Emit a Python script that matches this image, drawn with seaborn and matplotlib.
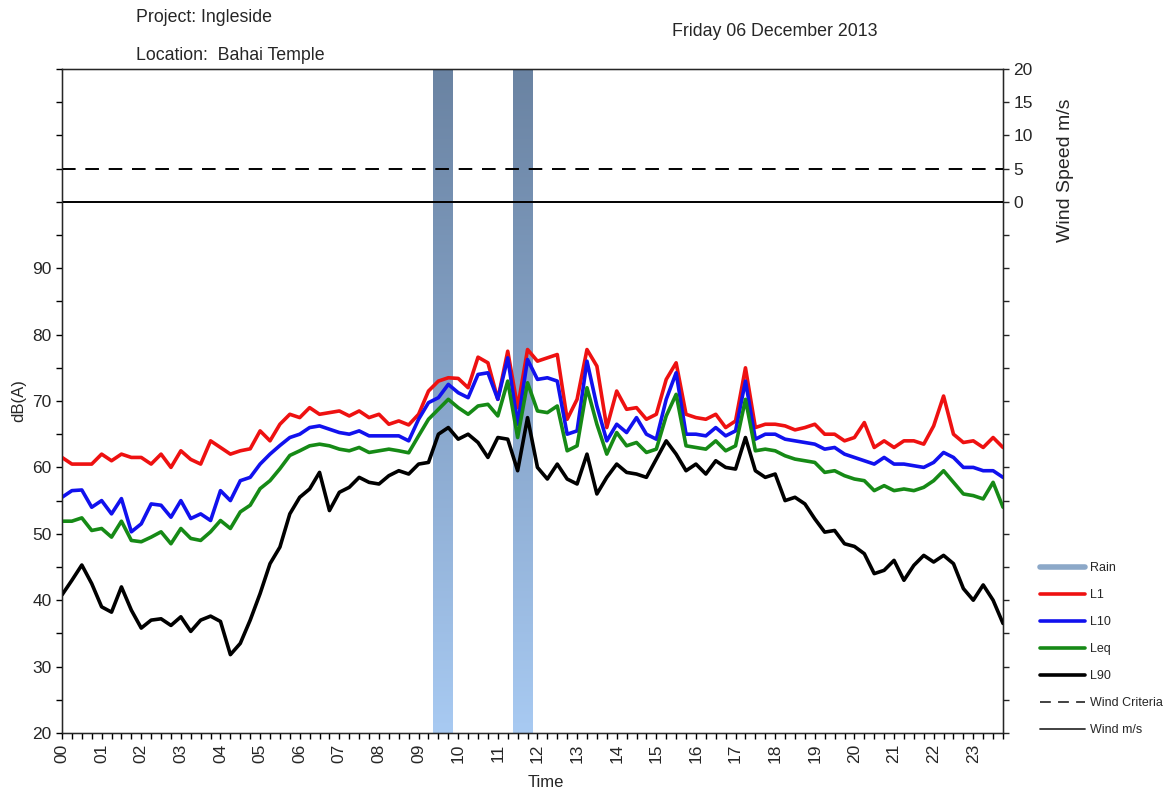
import numpy as np
import pandas as pd
import seaborn as sns
import matplotlib.pyplot as plt
from matplotlib.colors import LinearSegmentedColormap
from matplotlib.lines import Line2D

# 15 minute intervals, 00:00 -> 23:45 (hours)
time_h = np.arange(96) * 0.25

l1 = [61.5, 60.5, 60.5, 60.5, 62, 61, 62, 61.5, 61.5, 60.5, 62, 60, 62.5, 61.2, 60.5, 64, 63, 62, 62.5, 62.8, 65.5, 64, 66.5, 68, 67.5,
      69, 68, 68.25, 68.5, 67.75, 68.5, 67.5, 68, 66.5, 67, 66.4, 68, 71.5, 73, 73.5, 73.4, 72, 76.6, 75.75, 70.25, 77.5, 69, 77.75, 76,
      76.5, 77, 67.25, 70.25, 77.75, 75.25, 66, 71.5, 68.75, 69, 67.25, 68, 73.25, 75.75, 68, 67.5, 67.25, 68, 66, 67, 75, 66, 66.5, 66.5,
      66.25, 65.65, 66, 66.5, 65, 65, 64, 64.5, 66.75, 63, 64, 63, 64, 64, 63.5, 66.25, 70.75, 65, 63.75, 64, 63, 64.5, 63]
l10 = [55.5, 56.5, 56.6, 54, 55, 53, 55.3, 50.3, 51.5, 54.5, 54.3, 52.5, 55, 52.3, 53, 52, 56.5, 55, 58, 58.5, 60.5, 62, 63.3, 64.5, 65,
       66, 66.25, 65.75, 65.25, 65, 65.5, 64.75, 64.75, 64.75, 64.75, 64, 67.25, 69.75, 70.5, 72.5, 71.25, 70.5, 74, 74.25, 70.25, 76.5, 66.5, 76.25, 73.25,
       73.5, 73, 65, 65.5, 76, 69.25, 64, 66.5, 65.25, 67.5, 65, 64.25, 70.25, 74.25, 65, 65, 64.75, 66, 64.75, 65.5, 73, 64.25, 65, 65,
       64.25, 64, 63.75, 63.5, 62.75, 63, 62, 61.5, 61, 60.5, 61.5, 60.5, 60.5, 60.25, 60, 60.75, 62.25, 61.5, 60, 60, 59.5, 59.5, 58.5]
leq = [51.9, 51.9, 52.4, 50.5, 50.8, 49.5, 51.9, 49, 48.8, 49.5, 50.3, 48.5, 50.8, 49.3, 49, 50.3, 52, 50.8, 53.3, 54.3, 56.8, 58, 59.8, 61.8, 62.5,
       63.25, 63.5, 63.25, 62.75, 62.5, 63, 62.25, 62.5, 62.75, 62.5, 62.2, 64.75, 67.25, 68.75, 70.25, 69, 68, 69.25, 69.5, 67.75, 73, 64.5, 72.75, 68.5,
       68.25, 69.25, 62.5, 63.25, 72, 66.5, 62, 65.25, 63.25, 63.75, 62.25, 62.75, 67.75, 71, 63.25, 63, 62.75, 64, 62.5, 63.25, 70.25, 62.5, 62.75, 62.5,
       61.75, 61.25, 61, 60.75, 59.25, 59.5, 58.75, 58.25, 58, 56.5, 57.25, 56.5, 56.75, 56.5, 57, 58, 59.5, 57.75, 56, 55.75, 55.25, 57.75, 54]
l90 = [40.8, 43, 45.3, 42.5, 39, 38.2, 42, 38.5, 35.8, 37, 37.2, 36.2, 37.5, 35.3, 37, 37.6, 36.8, 31.8, 33.5, 37, 41, 45.5, 48, 53, 55.5,
       56.75, 59.25, 53.5, 56.25, 57, 58.5, 57.75, 57.5, 58.75, 59.5, 59, 60.5, 60.75, 65, 66, 64.25, 65, 63.75, 61.5, 64.5, 64.25, 59.5, 67.5, 60,
       58.25, 60.5, 58.25, 57.5, 62, 56, 58.5, 60.5, 59.25, 59, 58.5, 61.25, 64, 62, 59.5, 60.5, 59, 61, 60, 59.75, 64.5, 59.5, 58.5, 59,
       55, 55.5, 54.5, 52.25, 50.25, 50.5, 48.5, 48.1, 47, 44, 44.5, 46, 43, 45.25, 46.75, 45.75, 46.75, 45.5, 41.75, 40, 42.3, 40, 36.5]

# wind logger read 0 m/s all day, criteria 5 m/s
wind_ms = np.zeros(len(time_h))
wind_criteria = 5

# rain periods (hours)
rain_start = [9.375, 11.375]
rain_end = [9.875, 11.875]

df = pd.DataFrame({'time': time_h, 'L1': l1, 'L10': l10, 'Leq': leq, 'L90': l90,
                   'wind': wind_ms, 'criteria': wind_criteria})

sns.set_style('ticks')
plt.rcParams['font.family'] = ['Liberation Sans', 'DejaVu Sans']

fig = plt.figure(figsize=(11.71, 7.94), dpi=100)
ax = fig.add_axes([62/1171, 1-733/794, 941/1171, 664/794])

# rain columns with the vertical gradient
rain_cmap = LinearSegmentedColormap.from_list('rain', ['#6a83a2', '#87a5ca', '#a8caf2'])
grad = np.linspace(0, 1, 256).reshape(-1, 1)
for s, e in zip(rain_start, rain_end):
    ax.imshow(grad, extent=[s, e, 20, 120], aspect='auto', cmap=rain_cmap, zorder=0)

series = [('L1', '#ee1111'), ('L10', '#1111ee'), ('Leq', '#168a16'), ('L90', '#000000')]
for name, col in series:
    sns.lineplot(data=df, x='time', y=name, color=col, lw=2.6, ax=ax, zorder=3)

ax.set_xlim(0, 23.75)
ax.set_ylim(20, 120)
yt = np.arange(20, 121, 5)
ax.set_yticks(yt)
ax.set_yticklabels([str(v) if v % 10 == 0 and v <= 90 else '' for v in yt])
ax.set_xticks(np.arange(0, 24, 1))
ax.set_xticklabels([f'{h:02d}' for h in range(24)], rotation=90)
ax.set_xticks(time_h, minor=True)
ax.tick_params(axis='both', which='both', direction='out', length=4, width=1,
               labelsize=12.5, color='black')
for sp in ax.spines.values():
    sp.set_visible(True)
    sp.set_color('black')
    sp.set_linewidth(1)

# wind axis on the right
ax2 = ax.twinx()
sns.lineplot(data=df, x='time', y='wind', color='black', lw=1.4, ax=ax2)
sns.lineplot(data=df, x='time', y='criteria', color='black', lw=1.4, ax=ax2,
             dashes=False, linestyle=(0, (7, 5)))
ax2.set_ylim(-80, 20)
ax2.set_xlim(0, 23.75)
wt = np.arange(-80, 21, 5)
ax2.set_yticks(wt)
ax2.set_yticklabels([str(v) if v >= 0 else '' for v in wt])
ax2.tick_params(axis='y', direction='out', length=4, width=1, labelsize=12.5)
ax2.set_xlabel('')
ax2.set_ylabel('Wind Speed m/s', fontsize=14)
ax2.yaxis.set_label_coords(1.057, 0.848)

ax.set_xlabel('Time', fontsize=12)
ax.set_ylabel('dB(A)', fontsize=12)
ax.xaxis.set_label_coords(0.514, -0.063)
ax.yaxis.set_label_coords(-0.038, 0.5)

# header text
fig.text(136/1171, 1-18/794, 'Project: Ingleside', fontsize=12.8, va='center')
fig.text(136/1171, 1-56/794, 'Location:  Bahai Temple', fontsize=12.8, va='center')
fig.text(672/1171, 1-31/794, 'Friday 06 December 2013', fontsize=12.8, va='center')

handles = [
    Line2D([], [], color='#8ca8c8', lw=4),
    Line2D([], [], color='#ee1111', lw=2.6),
    Line2D([], [], color='#1111ee', lw=2.6),
    Line2D([], [], color='#168a16', lw=2.6),
    Line2D([], [], color='#000000', lw=2.6),
    Line2D([], [], color='#333333', lw=1.3, linestyle=(0, (6, 4))),
    Line2D([], [], color='#333333', lw=1.3),
]
labels = ['Rain', 'L1', 'L10', 'Leq', 'L90', 'Wind Criteria', 'Wind m/s']
fig.legend(handles, labels, loc='upper left', bbox_to_anchor=(1040/1171, 1-562/794),
           frameon=False, fontsize=9, handlelength=3.6, handletextpad=0.4,
           labelspacing=1.2, borderpad=0, borderaxespad=0)

fig.savefig('out.png', dpi=100)
